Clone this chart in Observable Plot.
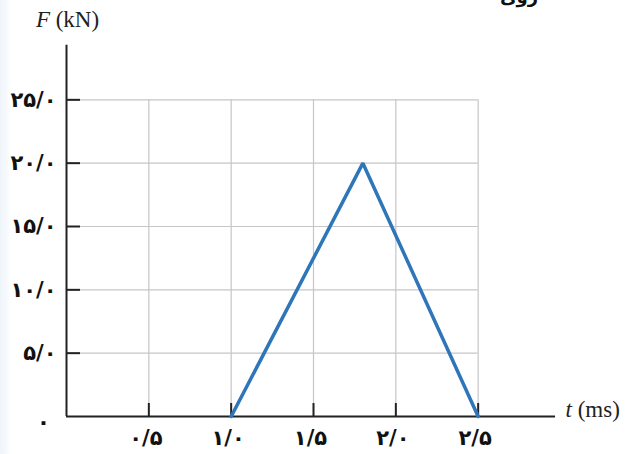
<!DOCTYPE html>
<html>
<head>
<meta charset="utf-8">
<script src="https://cdn.jsdelivr.net/npm/d3@7"></script>
<script src="https://cdn.jsdelivr.net/npm/@observablehq/plot@0.6"></script>
<style>
  html, body { margin: 0; padding: 0; }
  body { width: 626px; height: 454px; overflow: hidden; position: relative;
         background: linear-gradient(to right, #eef4fa 0px, #f6f9fc 6px, #ffffff 12px); }
  #chart { position: absolute; left: 0; top: 0; }
  #cut { position: absolute; top: -14px; left: 500px; font: bold 18px "DejaVu Sans"; color: #111; direction: rtl; }
</style>
</head>
<body>
<div id="chart"></div>
<div id="cut">روی</div>
<script>
// Data
const times  = [1.0, 1.8, 2.5];           // t (ms)
const forces = [0, 20, 0];                // F (kN)
const xTicks = [0.5, 1.0, 1.5, 2.0, 2.5];
const xTickLabels = ["۰/۵", "۱/۰", "۱/۵", "۲/۰", "۲/۵"];
const yTicks = [5, 10, 15, 20, 25];
const yTickLabels = ["۵/۰", "۱۰/۰", "۱۵/۰", "۲۰/۰", "۲۵/۰"];
const zeroLabel = ["۰"];
const xAxisEnd = 2.97;
const yAxisEnd = 29.3;

const series = times.map((t, i) => ({t, F: forces[i]}));
const W = 626, H = 454, mL = 66, mR = 66, mT = 36, mB = 38;
const frameW = W - mL - mR, frameH = H - mT - mB;
const digitFont = "DejaVu Sans";

const plot = Plot.plot({
  width: W, height: H,
  marginLeft: mL, marginRight: mR, marginTop: mT, marginBottom: mB,
  x: {domain: [0, 3], label: null},
  y: {domain: [0, 30], label: null},
  style: {background: "transparent", fontFamily: digitFont, fontSize: "15px", color: "#111"},
  marks: [
    // grid
    Plot.ruleX(xTicks, {x: d => d, y1: 0, y2: yTicks[yTicks.length - 1], stroke: "#c6c6c6", strokeWidth: 1.2}),
    Plot.ruleY(yTicks, {y: d => d, x1: 0, x2: xTicks[xTicks.length - 1], stroke: "#c6c6c6", strokeWidth: 1.2}),
    // tick marks (inward)
    Plot.tickX(xTicks, {x: d => d, insetTop: frameH - 13, stroke: "#222", strokeWidth: 2}),
    Plot.tickY(yTicks, {y: d => d, insetRight: frameW - 14, stroke: "#222", strokeWidth: 2}),
    // axes lines
    Plot.ruleX([0], {y1: 0, y2: yAxisEnd, stroke: "#222", strokeWidth: 2}),
    Plot.ruleY([0], {x1: 0, x2: xAxisEnd, stroke: "#222", strokeWidth: 2}),
    // tick labels
    Plot.axisX(xTicks, {label: null, tickSize: 0, tickPadding: 14, tickFormat: (d) => xTickLabels[xTicks.indexOf(d)], fontSize: 21, fontWeight: "bold", fill: "#111", dx: -3}),
    Plot.axisY(yTicks, {label: null, tickSize: 0, tickPadding: 10, tickFormat: (d) => yTickLabels[yTicks.indexOf(d)], fontSize: 21, fontWeight: "bold", fill: "#111"}),
    Plot.text(zeroLabel, {x: 0, y: 0, text: d => d, dx: -23, dy: 5, fontSize: 22, fontWeight: "bold", fill: "#111"}),
    // data line
    Plot.line(series, {x: "t", y: "F", stroke: "#2e75b9", strokeWidth: 3.5, strokeLinejoin: "miter"}),
    // axis titles
    Plot.text(["F (kN)"], {frameAnchor: "top-left", text: d => d, dx: 1, dy: -26, fontSize: 23, fontFamily: "Liberation Serif", fill: "#222", textAnchor: "middle"}),
    Plot.text(["t (ms)"], {frameAnchor: "bottom-right", text: d => d, dx: 5, dy: 0, fontSize: 23, fontFamily: "Liberation Serif", fill: "#222", textAnchor: "start"})
  ]
});
document.getElementById("chart").appendChild(plot);

// italicize the variable letters
d3.select(plot).selectAll("text").each(function() {
  const t = this.textContent;
  if (t === "F (kN)" || t === "t (ms)") {
    const el = d3.select(this);
    el.text("");
    el.append("tspan").attr("font-style", "italic").text(t[0]);
    el.append("tspan").text(t.slice(1));
  }
});
</script>
</body>
</html>
